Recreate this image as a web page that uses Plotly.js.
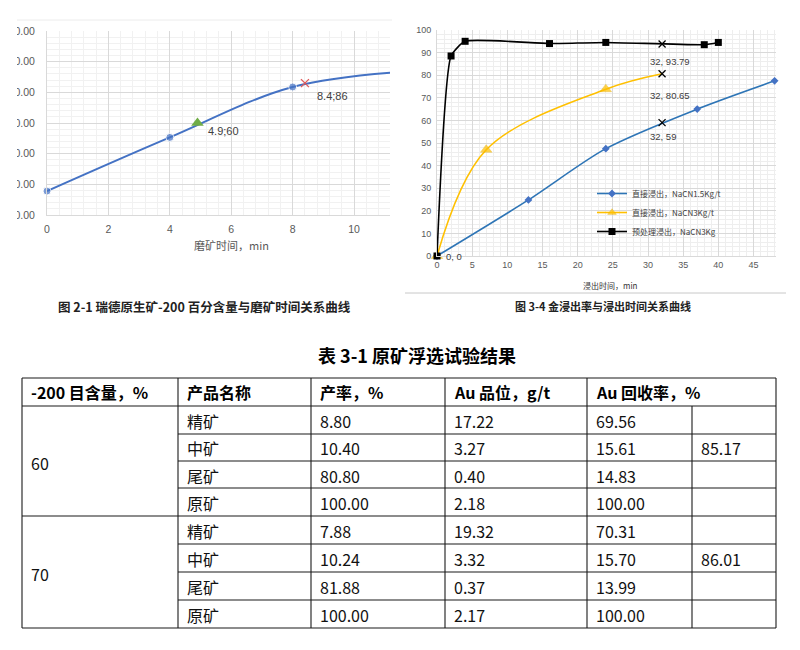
<!DOCTYPE html>
<html><head><meta charset="utf-8">
<script src="https://cdn.plot.ly/plotly-3.0.1.min.js"></script>
<style>html,body{margin:0;padding:0;background:#fff}#chart{width:800px;height:650px}</style>
</head><body><div id="chart"></div>
<script>
// ---------- Chart 2-1 data ----------
const grindTime = [0, 4, 8, 12];
const minus200Pct = [15.6, 50.6, 83.5, 94];
const targetTimeA = [4.9];
const targetPctA = [60];
const targetTimeB = [8.4];
const targetPctB = [86];
const grindTicks = [0, 2, 4, 6, 8, 10];

// ---------- Chart 3-4 data ----------
const seriesNames = ['直接浸出，NaCN1.5Kg/t', '直接浸出，NaCN3Kg/t', '预处理浸出，NaCN3Kg'];
const leachTimeA = [0, 13, 24, 37, 48];
const leachRateA = [0, 24.8, 47.5, 65, 77.5];
const leachTimeB = [0, 7, 24, 32];
const leachRateB = [0, 47, 73.8, 80.65];
const leachTimeC = [0, 2, 4, 16, 24, 38, 40];
const leachRateC = [0, 88.5, 95, 94, 94.5, 93.5, 94.5];
const readTime = [32, 32, 32];
const readRate = [93.79, 80.65, 59];

// ---------- Table 3-1 data ----------
const tableTitle = '表 3-1 原矿浮选试验结果';
const tableHeader = ['-200 目含量，%', '产品名称', '产率，%', 'Au 品位，g/t', 'Au 回收率，%'];
const meshGroups = ['60', '70'];
const productNames = ['精矿', '中矿', '尾矿', '原矿'];
const yield60 = ['8.80', '10.40', '80.80', '100.00'];
const grade60 = ['17.22', '3.27', '0.40', '2.18'];
const recovery60 = ['69.56', '15.61', '14.83', '100.00'];
const combined60 = ['', '85.17', '', ''];
const yield70 = ['7.88', '10.24', '81.88', '100.00'];
const grade70 = ['19.32', '3.32', '0.37', '2.17'];
const recovery70 = ['70.31', '15.70', '13.99', '100.00'];
const combined70 = ['', '86.01', '', ''];

const captionLeft = '图 2-1 瑞德原生矿-200 百分含量与磨矿时间关系曲线';
const captionRight = '图 3-4 金浸出率与浸出时间关系曲线';

// ---------- helpers ----------
const W = 800, H = 650;
const px = v => v / W;
const py = v => 1 - v / H;
const SANS = "'Liberation Sans', 'Noto Sans CJK SC', sans-serif";
const CJK = "'Noto Sans CJK SC', 'Liberation Sans', sans-serif";

const xLeftMax = 11.17;

const traces = [
  {
    x: grindTime, y: minus200Pct, xaxis: 'x', yaxis: 'y', type: 'scatter', mode: 'lines+markers',
    line: {color: '#4472c4', width: 2, shape: 'spline', smoothing: 1},
    marker: {color: '#4472c4', size: grindTime.map(t => t <= xLeftMax ? 8 : 0)},
    cliponaxis: false, showlegend: false
  },
  {
    x: targetTimeA, y: targetPctA, xaxis: 'x', yaxis: 'y', type: 'scatter', mode: 'markers',
    marker: {color: '#70ad47', size: 11, symbol: 'triangle-up'}, showlegend: false, cliponaxis: false
  },
  {
    x: targetTimeB, y: targetPctB, xaxis: 'x', yaxis: 'y', type: 'scatter', mode: 'markers',
    marker: {color: '#e05a5a', size: 8, symbol: 'x-thin', line: {color: '#e05a5a', width: 1.3}},
    showlegend: false, cliponaxis: false
  },
  {
    x: leachTimeA, y: leachRateA, xaxis: 'x2', yaxis: 'y2', type: 'scatter', mode: 'lines+markers',
    name: seriesNames[0],
    line: {color: '#2e75b6', width: 1.6, shape: 'spline', smoothing: 0.8},
    marker: {color: '#4472c4', size: 6, symbol: 'diamond'}, cliponaxis: false
  },
  {
    x: leachTimeB, y: leachRateB, xaxis: 'x2', yaxis: 'y2', type: 'scatter', mode: 'lines+markers',
    name: seriesNames[1],
    line: {color: '#ffc000', width: 1.6, shape: 'spline', smoothing: 1},
    marker: {color: '#ffc000', symbol: 'triangle-up', line: {color: '#e0a800', width: 0.5},
      size: leachTimeB.map((t, i) => i === leachTimeB.length - 1 ? 0 : 10)},
    cliponaxis: false
  },
  {
    x: leachTimeC, y: leachRateC, xaxis: 'x2', yaxis: 'y2', type: 'scatter', mode: 'lines+markers',
    name: seriesNames[2],
    line: {color: '#000000', width: 1.6, shape: 'spline', smoothing: 0.5},
    marker: {color: '#000000', size: 7, symbol: 'square'}, cliponaxis: false
  },
  {
    x: readTime, y: readRate, xaxis: 'x2', yaxis: 'y2', type: 'scatter', mode: 'markers',
    marker: {color: '#000', size: 7, symbol: 'x-thin', line: {color: '#000', width: 1.3}},
    showlegend: false, cliponaxis: false
  }
];

const annotations = [];
const shapes = [];

// data labels, left chart
annotations.push({xref: 'x', yref: 'y', x: targetTimeA[0], y: targetPctA[0],
  text: targetTimeA[0] + ';' + targetPctA[0], showarrow: false, xanchor: 'left', yanchor: 'middle',
  xshift: 9, yshift: -8, font: {family: SANS, size: 11, color: '#404040'}});
annotations.push({xref: 'x', yref: 'y', x: targetTimeB[0], y: targetPctB[0],
  text: targetTimeB[0] + ';' + targetPctB[0], showarrow: false, xanchor: 'left', yanchor: 'middle',
  xshift: 10, yshift: -13, font: {family: SANS, size: 11, color: '#404040'}});

// data labels, right chart
const readShift = [-17, -22, -14];
readTime.forEach((t, i) => {
  annotations.push({xref: 'x2', yref: 'y2', x: t, y: readRate[i], text: t + ', ' + readRate[i],
    showarrow: false, xanchor: 'left', yanchor: 'middle', xshift: -14, yshift: readShift[i],
    font: {family: SANS, size: 9.5, color: '#404040'}});
});
annotations.push({xref: 'x2', yref: 'y2', x: leachTimeC[0], y: leachRateC[0],
  text: leachTimeC[0] + ', ' + leachRateC[0], showarrow: false, xanchor: 'left', yanchor: 'middle',
  xshift: 7, yshift: 0, font: {family: SANS, size: 9.5, color: '#404040'}});

// axis titles & captions (explicitly centred)
const centred = (x, y, text, font) => annotations.push({xref: 'paper', yref: 'paper', x: px(x), y: py(y),
  xanchor: 'center', yanchor: 'middle', text: text, showarrow: false, font: font});
centred(231, 245, '磨矿时间，min', {family: CJK, size: 11, color: '#595959'});
centred(610, 285, '浸出时间，min', {family: CJK, size: 8, color: '#333'});
centred(205, 306, '<b>' + captionLeft + '</b>', {family: CJK, size: 12.5, color: '#222'});
centred(603, 306, '<b>' + captionRight + '</b>', {family: CJK, size: 11, color: '#222'});
centred(417, 355, '<b>' + tableTitle + '</b>', {family: CJK, size: 18, color: '#000'});

// decorative frame lines
shapes.push({type: 'line', xref: 'paper', yref: 'paper', x0: px(17), x1: px(392), y0: py(20), y1: py(20),
  line: {color: '#ececec', width: 1}});
shapes.push({type: 'line', xref: 'paper', yref: 'paper', x0: px(405), x1: px(786), y0: py(293), y1: py(293),
  line: {color: '#c8c8c8', width: 1}});
// crop of left chart's y labels (image cut in the source)
shapes.push({type: 'rect', xref: 'paper', yref: 'paper', x0: 0, x1: px(17), y0: py(225), y1: py(22),
  fillcolor: '#ffffff', line: {width: 0}, layer: 'above'});

// ---------- table ----------
const colEdges = [22, 178, 311, 445, 587, 692, 776];
const rowEdges = [378, 406, 434, 461, 488, 516, 544, 572, 600, 628];
const lineStyle = {color: '#1a1a1a', width: 1.1};
const hline = (x0, x1, y) => shapes.push({type: 'line', xref: 'paper', yref: 'paper',
  x0: px(x0), x1: px(x1), y0: py(y), y1: py(y), line: lineStyle});
const vline = (x, y0, y1) => shapes.push({type: 'line', xref: 'paper', yref: 'paper',
  x0: px(x), x1: px(x), y0: py(y0), y1: py(y1), line: lineStyle});

rowEdges.forEach((y, i) => {
  const full = (i === 0 || i === 1 || i === 5 || i === rowEdges.length - 1);
  hline(full ? colEdges[0] : colEdges[1], colEdges[colEdges.length - 1], y);
});
colEdges.forEach((x, i) => {
  if (i === 5) vline(x, rowEdges[1], rowEdges[rowEdges.length - 1]);
  else vline(x, rowEdges[0], rowEdges[rowEdges.length - 1]);
});

const cellText = (col, y, text, bold) => annotations.push({xref: 'paper', yref: 'paper',
  x: px(colEdges[col] + 7), y: py(y), xanchor: 'left', yanchor: 'middle', showarrow: false,
  text: bold ? '<b>' + text + '</b>' : text,
  font: {family: CJK, size: 16, color: bold ? '#000' : '#111'}});

tableHeader.forEach((h, c) => cellText(c, (rowEdges[0] + rowEdges[1]) / 2, h, true));

const groups = [
  [yield60, grade60, recovery60, combined60],
  [yield70, grade70, recovery70, combined70]
];
groups.forEach((g, gi) => {
  const top = rowEdges[1 + gi * 4], bot = rowEdges[1 + gi * 4 + 4];
  cellText(0, (top + bot) / 2 + 2, meshGroups[gi], false);
  productNames.forEach((p, r) => {
    const yc = (rowEdges[1 + gi * 4 + r] + rowEdges[2 + gi * 4 + r]) / 2 + 1;
    cellText(1, yc, p, false);
    g.forEach((arr, k) => { if (arr[r] !== '') cellText(2 + k, yc, arr[r], false); });
  });
});

const axisFontL = {family: SANS, size: 10.5, color: '#595959'};
const axisFontR = {family: SANS, size: 9, color: '#595959'};

const layout = {
  width: W, height: H, margin: {l: 0, r: 0, t: 0, b: 0},
  paper_bgcolor: '#fff', plot_bgcolor: 'rgba(0,0,0,0)',
  font: {family: SANS},
  showlegend: true,
  legend: {x: px(592), y: py(179), xanchor: 'left', yanchor: 'top', bgcolor: 'rgba(0,0,0,0)',
    font: {family: CJK, size: 8, color: '#404040'}, itemwidth: 30, tracegroupgap: 0},
  xaxis: {domain: [px(47), px(390)], range: [0, xLeftMax], anchor: 'y', tickmode: 'array',
    tickvals: grindTicks, ticktext: grindTicks.map(String), showgrid: true, gridcolor: '#d9d9d9',
    minor: {dtick: 0.4, tick0: 0, showgrid: true, gridcolor: '#f1f1f1', gridwidth: 1},
    zeroline: false, showline: true, linecolor: '#d9d9d9', ticks: '', tickfont: axisFontL,
    ticklabelstandoff: 4, automargin: false},
  yaxis: {domain: [py(215), py(31)], range: [0, 120], anchor: 'x', dtick: 20, tick0: 0,
    tickformat: '.2f', showgrid: true, gridcolor: '#d9d9d9',
    minor: {dtick: 4, tick0: 0, showgrid: true, gridcolor: '#f1f1f1', gridwidth: 1},
    zeroline: false, showline: true, linecolor: '#d9d9d9', ticks: '', tickfont: axisFontL,
    ticklabelstandoff: 9, automargin: false},
  xaxis2: {domain: [px(437), px(776)], range: [0, 48.2], anchor: 'y2', dtick: 5, tick0: 0,
    showgrid: true, gridcolor: '#d9d9d9',
    minor: {dtick: 1, tick0: 0, showgrid: true, gridcolor: '#eeeeee', gridwidth: 1},
    zeroline: false, showline: true, linecolor: '#d9d9d9', ticks: '', tickfont: axisFontR,
    automargin: false},
  yaxis2: {domain: [py(256), py(30)], range: [0, 100], anchor: 'x2', dtick: 10, tick0: 0,
    showgrid: true, gridcolor: '#d9d9d9',
    minor: {dtick: 2, tick0: 0, showgrid: true, gridcolor: '#eeeeee', gridwidth: 1},
    zeroline: false, showline: true, linecolor: '#d9d9d9', ticks: '', tickfont: axisFontR,
    ticklabelstandoff: 3, automargin: false},
  annotations: annotations,
  shapes: shapes
};

Plotly.newPlot('chart', traces, layout, {staticPlot: true, displayModeBar: false});
</script>
</body></html>
